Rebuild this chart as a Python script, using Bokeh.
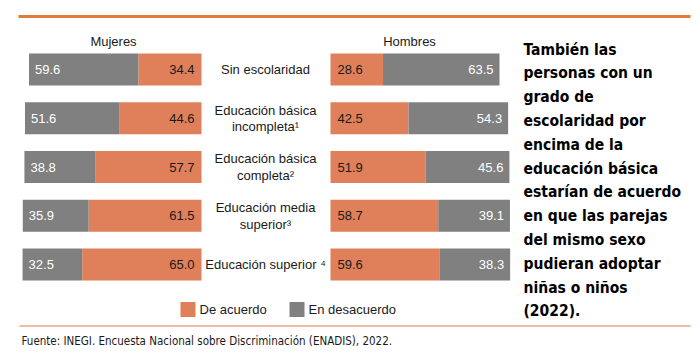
from bokeh.plotting import figure
from bokeh.models import Range1d, ColumnDataSource, Label
from bokeh.core.properties import value
from bokeh.embed import file_html
from bokeh.resources import INLINE

# ---- data ----
categorias = ["Sin escolaridad", "Educación básica\nincompleta¹", "Educación básica\ncompleta²",
              "Educación media\nsuperior³", "Educación superior ⁴"]
mujeres_acuerdo = [34.4, 44.6, 57.7, 61.5, 65.0]
mujeres_desacuerdo = [59.6, 51.6, 38.8, 35.9, 32.5]
hombres_acuerdo = [28.6, 42.5, 51.9, 58.7, 59.6]
hombres_desacuerdo = [63.5, 54.3, 45.6, 39.1, 38.3]
paneles = ["Mujeres", "Hombres"]
leyenda = ["De acuerdo", "En desacuerdo"]
texto_lateral = ["También las", "personas con un", "grado de", "escolaridad por", "encima de la",
                 "educación básica", "estarían de acuerdo", "en que las parejas", "del mismo sexo",
                 "pudieran adoptar", "niñas o niños", "(2022)."]
fuente = "Fuente: INEGI. Encuesta Nacional sobre Discriminación (ENADIS), 2022."

NARANJA = "#E0805A"
GRIS = "#808080"
W, H = 700, 354
SCALE = 1.835      # px per percentage point
PITCH = 48.75      # px per row
ROW0 = 69          # px of first row centre
SANS_S = "Liberation Sans"
NARROW_S = "DejaVu Sans Condensed"
SANS = value(SANS_S)

p = figure(width=W, height=H, output_backend="svg", toolbar_location=None,
           x_range=Range1d(201 / SCALE, (201 - W) / SCALE),
           y_range=Range1d((H - ROW0) / PITCH, -ROW0 / PITCH),
           x_axis_type=None, y_axis_type=None, min_border=0)
p.extra_x_ranges = {"hom": Range1d(-330 / SCALE, (W - 330) / SCALE), "px": Range1d(0, W)}
p.extra_y_ranges = {"py": Range1d(H, 0)}
p.grid.visible = False
p.outline_line_color = None
p.background_fill_color = "white"
p.border_fill_color = "white"

n = len(categorias)
rows = list(range(n))
src = ColumnDataSource(dict(
    y=rows, cat=categorias,
    m_a=mujeres_acuerdo, m_d=mujeres_desacuerdo,
    m_t=[a + d for a, d in zip(mujeres_acuerdo, mujeres_desacuerdo)],
    h_a=hombres_acuerdo, h_d=hombres_desacuerdo,
    h_t=[a + d for a, d in zip(hombres_acuerdo, hombres_desacuerdo)],
    m_a_s=[f"{v:.1f}" for v in mujeres_acuerdo], m_d_s=[f"{v:.1f}" for v in mujeres_desacuerdo],
    h_a_s=[f"{v:.1f}" for v in hombres_acuerdo], h_d_s=[f"{v:.1f}" for v in hombres_desacuerdo],
))
BH = 32 / PITCH

# Mujeres (grows leftwards)
p.hbar(y="y", left=0, right="m_a", height=BH, color=NARANJA, line_color=None, source=src)
p.hbar(y="y", left="m_a", right="m_t", height=BH, color=GRIS, line_color=None, source=src)
p.text(x="m_t", y="y", text="m_d_s", source=src, text_align="left", text_baseline="middle",
       x_offset=6, text_color="white", text_font=SANS, text_font_size="13px")
p.text(x=0, y="y", text="m_a_s", source=src, text_align="right", text_baseline="middle",
       x_offset=-7, text_color="#1a1a1a", text_font=SANS, text_font_size="13px")

# Hombres (grows rightwards)
p.hbar(y="y", left=0, right="h_a", height=BH, color=NARANJA, line_color=None, source=src,
       x_range_name="hom")
p.hbar(y="y", left="h_a", right="h_t", height=BH, color=GRIS, line_color=None, source=src,
       x_range_name="hom")
p.text(x=0, y="y", text="h_a_s", source=src, text_align="left", text_baseline="middle",
       x_offset=7, text_color="#1a1a1a", text_font=SANS, text_font_size="13px", x_range_name="hom")
p.text(x="h_t", y="y", text="h_d_s", source=src, text_align="right", text_baseline="middle",
       x_offset=-6, text_color="white", text_font=SANS, text_font_size="13px", x_range_name="hom")

# Category labels
p.text(x=265, y="y", text="cat", source=src, x_range_name="px", text_align="center",
       text_baseline="middle", text_color="#1a1a1a", text_font=SANS, text_font_size="13px",
       text_line_height=1.1)

# Panel headers
for name, cx in zip(paneles, [113, 409]):
    p.add_layout(Label(x=cx, y=41, text=name, x_range_name="px", y_range_name="py",
                       text_align="center", text_baseline="middle", text_color="#1a1a1a",
                       text_font=SANS_S, text_font_size="13px"))

# Decorative rules
p.segment(x0=18, x1=690, y0=16, y1=16, line_color="#E07B3A", line_width=3,
          x_range_name="px", y_range_name="py")
p.segment(x0=19, x1=690, y0=325.5, y1=325.5, line_color="#E9A786", line_width=1.5,
          x_range_name="px", y_range_name="py")

# Legend
for lab, col, sx in zip(leyenda, [NARANJA, GRIS], [180, 289]):
    p.rect(x=sx + 7.5, y=309, width=15, height=15, color=col, line_color=None,
           x_range_name="px", y_range_name="py")
    p.add_layout(Label(x=sx + 19, y=309, text=lab, x_range_name="px", y_range_name="py",
                       text_align="left", text_baseline="middle", text_color="#1a1a1a",
                       text_font=SANS_S, text_font_size="13px"))

# Side text
for i, line in enumerate(texto_lateral):
    p.add_layout(Label(x=523, y=49 + i * 23.8, text=line, x_range_name="px", y_range_name="py",
                       text_align="left", text_baseline="alphabetic", text_color="black",
                       text_font=NARROW_S, text_font_style="bold", text_font_size="15.5px"))

# Source
p.add_layout(Label(x=21, y=340, text=fuente, x_range_name="px", y_range_name="py",
                   text_align="left", text_baseline="middle", text_color="#1a1a1a",
                   text_font=NARROW_S, text_font_size="11.5px"))

open("out.html", "w").write(file_html(p, INLINE))
